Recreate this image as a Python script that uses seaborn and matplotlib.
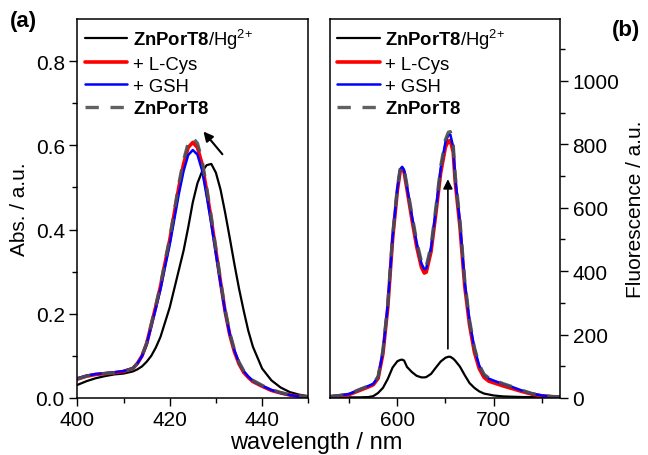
import numpy as np
import pandas as pd
import matplotlib
matplotlib.use("Agg")
import matplotlib.pyplot as plt
import seaborn as sns

# ---------------- data: absorption (panel a) ----------------
abs_wl = [400, 402, 404, 406, 408, 410, 412, 413, 414, 415, 416, 417, 418, 419, 420,
          421, 422, 423, 424, 425, 426, 427, 428, 429, 430, 431, 432, 433, 434, 435,
          436, 437, 438, 440, 442, 444, 446, 448, 450]
abs_zn = [0.045, 0.052, 0.056, 0.058, 0.060, 0.063, 0.070, 0.082, 0.100, 0.130, 0.175, 0.220,
          0.268, 0.325, 0.380, 0.445, 0.510, 0.565, 0.605, 0.618, 0.605, 0.565, 0.500, 0.430,
          0.355, 0.280, 0.210, 0.155, 0.115, 0.085, 0.065, 0.052, 0.042, 0.030, 0.020, 0.013,
          0.008, 0.005, 0.003]
abs_cys = [0.045, 0.052, 0.056, 0.058, 0.060, 0.063, 0.070, 0.082, 0.100, 0.129, 0.173, 0.218,
           0.265, 0.321, 0.375, 0.439, 0.502, 0.556, 0.595, 0.607, 0.595, 0.556, 0.492, 0.423,
           0.349, 0.275, 0.205, 0.150, 0.110, 0.081, 0.061, 0.049, 0.039, 0.028, 0.018, 0.012,
           0.007, 0.004, 0.003]
abs_gsh = [0.047, 0.053, 0.057, 0.059, 0.061, 0.064, 0.071, 0.082, 0.099, 0.127, 0.170, 0.213,
           0.258, 0.312, 0.364, 0.425, 0.486, 0.539, 0.577, 0.589, 0.578, 0.541, 0.480, 0.414,
           0.343, 0.272, 0.205, 0.152, 0.113, 0.084, 0.064, 0.051, 0.041, 0.029, 0.019, 0.012,
           0.007, 0.004, 0.003]
abs_hg = [0.031, 0.040, 0.047, 0.052, 0.056, 0.058, 0.063, 0.068, 0.075, 0.086, 0.100, 0.120,
          0.145, 0.180, 0.215, 0.260, 0.305, 0.350, 0.405, 0.465, 0.510, 0.538, 0.553, 0.556,
          0.535, 0.495, 0.440, 0.380, 0.318, 0.260, 0.208, 0.160, 0.122, 0.070, 0.042, 0.025,
          0.014, 0.008, 0.004]

# ---------------- data: fluorescence (panel b) ----------------
fl_wl = [530, 540, 550, 560, 570, 575, 580, 585, 590, 595, 600, 603, 605, 607, 610, 615,
         620, 625, 628, 630, 635, 640, 645, 650, 653, 655, 658, 660, 665, 670, 675, 680,
         685, 690, 695, 700, 710, 720, 730, 740, 750, 760, 770]
fl_zn = [5, 8, 13, 26, 38, 45, 68, 150, 295, 510, 665, 725, 732, 722, 670, 580,
         495, 430, 412, 415, 480, 600, 730, 815, 838, 840, 800, 705, 560, 370, 245, 160,
         105, 75, 63, 57, 45, 35, 24, 14, 8, 5, 3]
fl_cys = [4, 7, 11, 23, 35, 42, 62, 140, 285, 500, 655, 717, 724, 712, 658, 565,
          478, 412, 394, 397, 462, 582, 710, 792, 810, 812, 775, 685, 540, 352, 230, 145,
          93, 65, 53, 48, 38, 29, 20, 12, 7, 4, 3]
fl_gsh = [5, 8, 13, 26, 38, 45, 67, 148, 293, 508, 662, 722, 729, 719, 666, 576,
          490, 424, 406, 409, 474, 594, 724, 808, 829, 831, 792, 698, 554, 366, 242, 157,
          103, 73, 61, 55, 44, 34, 23, 14, 8, 5, 3]
fl_hg = [2, 2, 2, 2, 3, 6, 16, 32, 60, 96, 116, 120, 121, 118, 98, 82,
         70, 65, 65, 66, 76, 96, 115, 127, 130, 130, 124, 118, 99, 72, 47, 32,
         21, 14, 11, 8, 5, 4, 3, 3, 2, 2, 2]

labels = [r"$\mathbf{ZnPorT8}$/Hg$^{\text{2+}}$", "+ L-Cys", "+ GSH", r"$\mathbf{ZnPorT8}$"]

# ---------------- style ----------------
sns.set_theme(style="ticks")
plt.rcParams["font.family"] = ["Liberation Sans", "DejaVu Sans"]
plt.rcParams["mathtext.fontset"] = "custom"
plt.rcParams["mathtext.rm"] = "Liberation Sans"
plt.rcParams["mathtext.bf"] = "Liberation Sans:bold"
plt.rcParams["mathtext.it"] = "Liberation Sans:italic"
for k in ("text.color", "axes.labelcolor", "xtick.color", "ytick.color", "axes.edgecolor"):
    plt.rcParams[k] = "black"

fig = plt.figure(figsize=(6.48, 4.56), dpi=100)
ax1 = fig.add_axes([0.1193, 0.125, 0.3565, 0.831])
ax2 = fig.add_axes([0.5093, 0.125, 0.3549, 0.831])

styles = [
    dict(color="black", lw=1.6),
    dict(color="#ff0000", lw=2.6),
    dict(color="#0000ff", lw=1.8),
    dict(color="#505050", lw=2.4, dashes=(4.0, 3.5), alpha=0.9),
]


def draw(ax, wl, series):
    handles = []
    for ys, st, lab in zip(series, styles, labels):
        st = dict(st)
        dashes = st.pop("dashes", None)
        sns.lineplot(x=wl, y=ys, ax=ax, color=st["color"], linewidth=st["lw"],
                     alpha=st.get("alpha", 1.0), label=lab, legend=False)
        line = ax.lines[-1]
        if dashes is not None:
            line.set_dashes(dashes)
        handles.append(line)
    leg = ax.legend(handles=handles, labels=labels, loc="upper left", frameon=False,
                    fontsize=13.3, handlelength=2.3, handletextpad=0.3,
                    labelspacing=0.28, borderaxespad=0.2, borderpad=0.2)
    return leg


draw(ax1, abs_wl, [abs_hg, abs_cys, abs_gsh, abs_zn])
draw(ax2, fl_wl, [fl_hg, fl_cys, fl_gsh, fl_zn])

# axes ranges / ticks
ax1.set_xlim(400, 450)
ax1.set_ylim(0, 0.9)
ax1.set_xticks([400, 420, 440])
ax1.set_xticks([410, 430, 450], minor=True)
ax1.set_yticks([0.0, 0.2, 0.4, 0.6, 0.8])
ax1.set_yticks([0.1, 0.3, 0.5, 0.7], minor=True)
ax1.set_yticklabels(["0.0", "0.2", "0.4", "0.6", "0.8"])
ax1.set_ylabel("Abs. / a.u.", fontsize=15, labelpad=5)
ax1.set_xlabel("")

ax2.set_xlim(530, 769)
ax2.set_ylim(0, 1195)
ax2.set_xticks([600, 700])
ax2.set_xticks([550, 650, 750], minor=True)
ax2.set_yticks([0, 200, 400, 600, 800, 1000])
ax2.set_yticks([100, 300, 500, 700, 900, 1100], minor=True)
ax2.yaxis.tick_right()
ax2.yaxis.set_label_position("right")
ax2.set_ylabel("Fluorescence / a.u.", fontsize=15, labelpad=5)
ax2.set_xlabel("")

for ax in (ax1, ax2):
    for sp in ax.spines.values():
        sp.set_visible(True)
        sp.set_linewidth(1.1)
        sp.set_color("black")
    ax.tick_params(which="major", direction="out", length=6, width=1.0,
                   labelsize=15, colors="black", pad=3)
    ax.tick_params(which="minor", direction="out", length=3.5, width=1.0, colors="black")
ax1.tick_params(which="both", top=False, right=False)
ax2.tick_params(which="both", top=False, left=False, right=True)

# arrows
ax1.annotate("", xy=(427.3, 0.633), xytext=(431.4, 0.579),
             arrowprops=dict(arrowstyle="-|>", color="black", lw=1.5,
                             mutation_scale=14, shrinkA=0, shrinkB=0))
ax2.annotate("", xy=(652.5, 690), xytext=(652.5, 155),
             arrowprops=dict(arrowstyle="-|>", color="black", lw=1.2,
                             mutation_scale=14, shrinkA=0, shrinkB=0))

# panel labels and common x label
fig.text(0.015, 0.93, "(a)", fontsize=16, fontweight="bold", ha="left", va="bottom")
fig.text(0.945, 0.91, "(b)", fontsize=16, fontweight="bold", ha="left", va="bottom")
fig.text(0.488, 0.005, "wavelength / nm", fontsize=17, ha="center", va="bottom")

fig.savefig("out.png", dpi=100)
